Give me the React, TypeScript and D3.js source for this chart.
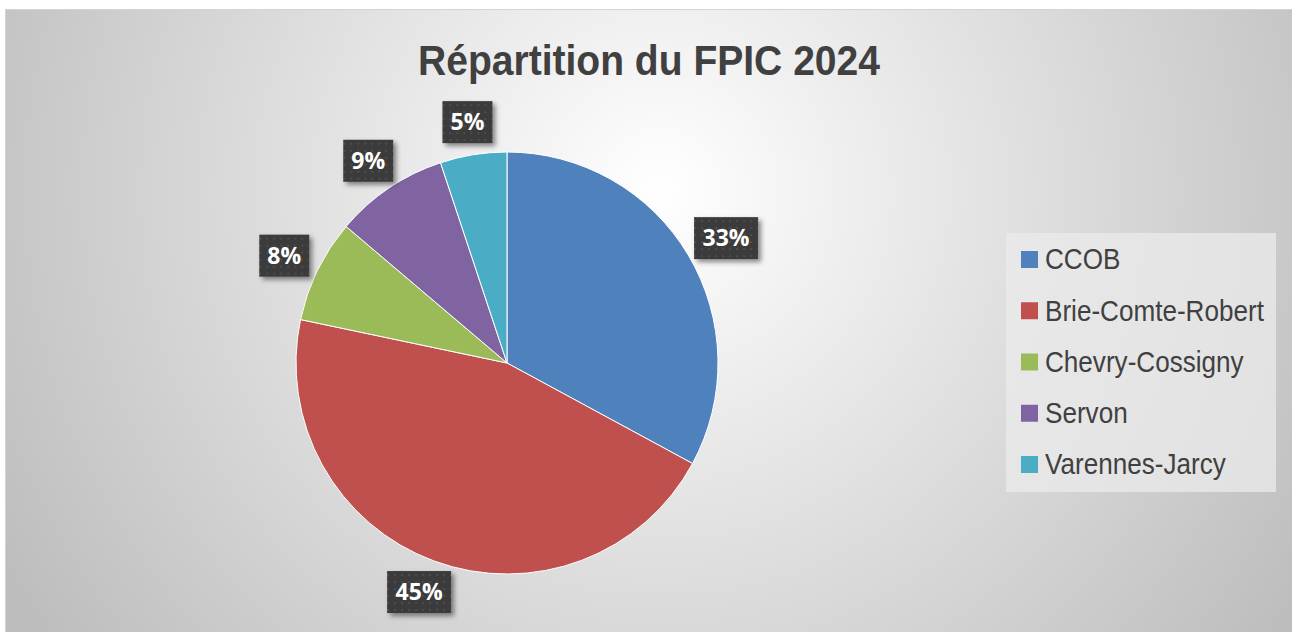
import React, { useEffect, useRef } from 'react';
import * as d3 from 'd3';

// chart data
const communes = ['CCOB', 'Brie-Comte-Robert', 'Chevry-Cossigny', 'Servon', 'Varennes-Jarcy'];
const shares = [32.9, 45.4, 7.9, 8.7, 5.1];
const colors = ['#4f81bd', '#c0504d', '#9bbb59', '#8064a2', '#4bacc6'];
const title = 'Répartition du FPIC 2024';

const W = 1292;
const H = 632;
const sans = '"Liberation Sans", Arial, sans-serif';

function App() {
    const svgRef = useRef<SVGSVGElement>(null);

    useEffect(() => {
        const svg = d3.select(svgRef.current).html('')
            .attr('width', W)
            .attr('height', H);

        const defs = svg.append('defs');

        const bg = defs.append('radialGradient')
            .attr('id', 'bg')
            .attr('gradientUnits', 'userSpaceOnUse')
            .attr('cx', 660).attr('cy', 190).attr('r', 760);
        bg.append('stop').attr('offset', '0%').attr('stop-color', '#ffffff');
        bg.append('stop').attr('offset', '100%').attr('stop-color', '#bdbdbd');

        // dotted dark texture for the data labels
        const pat = defs.append('pattern')
            .attr('id', 'dots')
            .attr('patternUnits', 'userSpaceOnUse')
            .attr('width', 7).attr('height', 7);
        pat.append('rect').attr('width', 7).attr('height', 7).attr('fill', '#3b3b3b');
        pat.append('rect').attr('x', 3).attr('y', 3).attr('width', 2).attr('height', 2).attr('fill', '#4d4d4d');

        const shadow = defs.append('filter').attr('id', 'shadow')
            .attr('x', '-30%').attr('y', '-30%').attr('width', '160%').attr('height', '160%');
        shadow.append('feDropShadow')
            .attr('dx', 3).attr('dy', 3).attr('stdDeviation', 2.5)
            .attr('flood-color', '#000').attr('flood-opacity', 0.45);

        // chart area
        svg.append('rect')
            .attr('x', 5.5).attr('y', 9.5)
            .attr('width', W).attr('height', H)
            .attr('fill', 'url(#bg)')
            .attr('stroke', '#d4d4d4');

        // title, squeezed like a narrow font
        svg.append('text')
            .attr('x', 649).attr('y', 75)
            .attr('text-anchor', 'middle')
            .attr('font-family', sans)
            .attr('font-weight', 'bold')
            .attr('font-size', 43)
            .attr('textLength', 462)
            .attr('lengthAdjust', 'spacingAndGlyphs')
            .attr('fill', '#404040')
            .text(title);

        // pie
        const cx = 507, cy = 363, radius = 211;
        const pie = d3.pie<number>().sort(null).value((d) => d);
        const arcs = pie(shares);
        const arc = d3.arc<d3.PieArcDatum<number>>().innerRadius(0).outerRadius(radius);

        const g = svg.append('g').attr('transform', 'translate(' + cx + ',' + cy + ')');
        g.selectAll('path')
            .data(arcs)
            .enter().append('path')
            .attr('d', arc)
            .attr('fill', (d, i) => colors[i])
            .attr('stroke', '#ffffff')
            .attr('stroke-width', 1);

        // outside-end labels
        const total = d3.sum(shares);
        const boxH = 42;
        arcs.forEach((d) => {
            const label = Math.round(d.data / total * 100) + '%';
            const mid = (d.startAngle + d.endAngle) / 2;
            const ux = Math.sin(mid), uy = -Math.cos(mid);
            const boxW = label.length > 2 ? 64 : 50;
            const ax = ux * (radius + 12), ay = uy * (radius + 12);
            const bx = ax + ux * boxW / 2, by = ay + uy * boxH / 2;
            const lg = g.append('g').attr('transform', 'translate(' + bx + ',' + by + ')');
            lg.append('rect')
                .attr('x', -boxW / 2).attr('y', -boxH / 2)
                .attr('width', boxW).attr('height', boxH)
                .attr('fill', 'url(#dots)')
                .attr('filter', 'url(#shadow)');
            lg.append('text')
                .attr('text-anchor', 'middle')
                .attr('dy', '0.36em')
                .attr('font-family', '"Open Sans", "Noto Sans", sans-serif')
                .attr('font-weight', 'bold')
                .attr('font-size', 23)
                .attr('fill', '#ffffff')
                .text(label);
        });

        // legend
        const legend = svg.append('g');
        legend.append('rect')
            .attr('x', 1006).attr('y', 233)
            .attr('width', 270).attr('height', 259)
            .attr('fill', '#ebebeb').attr('fill-opacity', 0.75);
        const rowY = d3.scalePoint<string>().domain(communes).range([259, 464]);
        const squeeze = 0.9;
        communes.forEach((c, i) => {
            const y = rowY(c) as number;
            legend.append('rect')
                .attr('x', 1021).attr('y', y - 8)
                .attr('width', 17).attr('height', 17)
                .attr('fill', colors[i]);
            legend.append('text')
                .attr('transform', 'translate(1045,' + y + ') scale(' + squeeze + ',1)')
                .attr('dy', '0.36em')
                .attr('font-family', sans)
                .attr('font-size', 29)
                .attr('fill', '#404040')
                .text(c);
        });
    }, []);

    return (
        <div style={{ position: 'absolute', left: 0, top: 0 }}>
            <svg ref={svgRef}></svg>
        </div>
    );
}

export default App;
